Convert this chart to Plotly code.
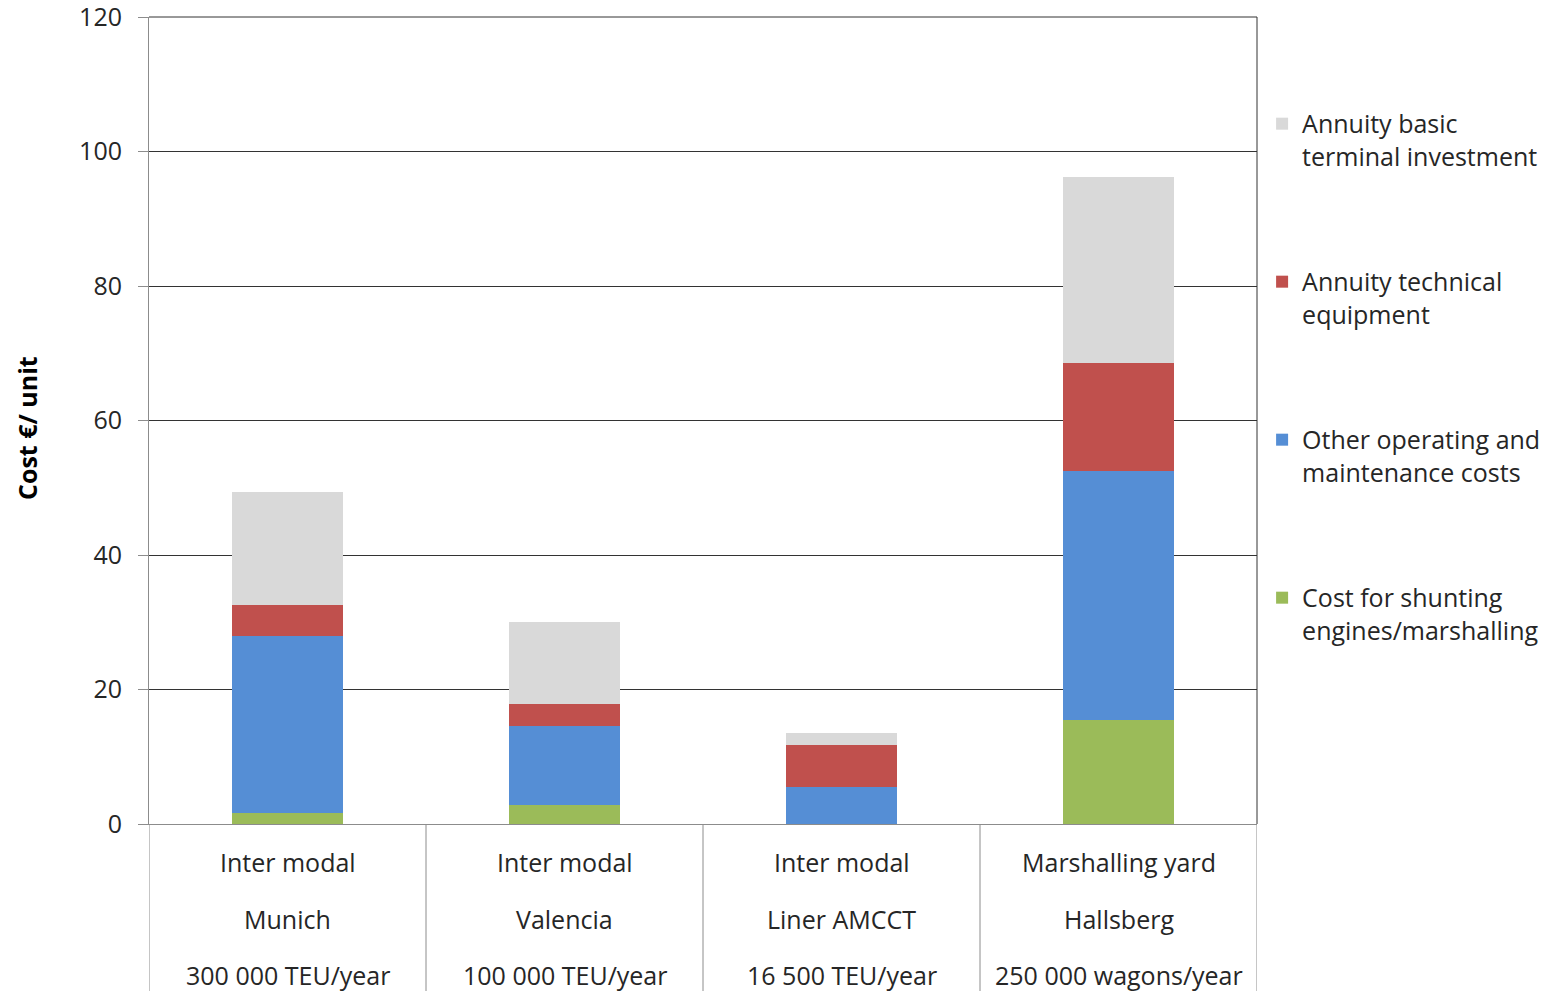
import plotly.graph_objects as go

categories = ["Munich", "Valencia", "Liner AMCCT", "Hallsberg"]
label_line1 = ["Inter modal", "Inter modal", "Inter modal", "Marshalling yard"]
label_line2 = ["Munich", "Valencia", "Liner AMCCT", "Hallsberg"]
label_line3 = ["300 000 TEU/year", "100 000 TEU/year", "16 500 TEU/year", "250 000 wagons/year"]

shunting = [1.6, 2.8, 0.0, 15.5]
other_om = [26.4, 11.8, 5.5, 37.0]
technical = [4.6, 3.2, 6.2, 16.0]
basic = [16.8, 12.2, 1.9, 27.7]

series_names = [
    "Cost for shunting<br>engines/marshalling",
    "Other operating and<br>maintenance costs",
    "Annuity technical<br>equipment",
    "Annuity basic<br>terminal investment",
]
series_values = [shunting, other_om, technical, basic]
series_colors = ["#9BBB59", "#558ED5", "#C0504D", "#D9D9D9"]
legend_ranks = [4, 3, 2, 1]

FONT = "Open Sans"
FS = 25
TXT = "#262626"

fig = go.Figure()
for i, (name, vals, col) in enumerate(zip(series_names, series_values, series_colors)):
    fig.add_trace(go.Bar(
        x=list(range(len(categories))), y=vals, name=name,
        marker=dict(color=col, line=dict(width=0)),
        legendgroup=f"g{i}", legendrank=legend_ranks[i],
    ))

fig.update_layout(
    barmode="stack", bargap=0.6,
    width=1559, height=991,
    margin=dict(l=149, r=302, t=17, b=167, autoexpand=False),
    plot_bgcolor="white", paper_bgcolor="white",
    font=dict(family=FONT, size=FS, color=TXT),
    showlegend=True,
    legend=dict(
        x=1.0046, xanchor="left", y=0.896, yanchor="top",
        traceorder="grouped", tracegroupgap=90,
        valign="top", font=dict(size=FS, family=FONT, color=TXT),
        itemwidth=30, bgcolor="rgba(0,0,0,0)",
    ),
)
fig.update_yaxes(
    range=[0, 120], dtick=20, showgrid=True, gridcolor="#333333", gridwidth=1,
    zeroline=False, showline=True, linecolor="#8C8C8C", linewidth=1,
    ticks="outside", ticklen=10, tickcolor="#8C8C8C",
    ticklabelstandoff=11, ticklabeloverflow="allow",
    tickfont=dict(size=FS, family=FONT, color=TXT),
)
fig.update_xaxes(
    range=[-0.5, len(categories) - 0.5], showticklabels=False, ticks="",
    showgrid=False, zeroline=False, showline=True, linecolor="#8C8C8C", linewidth=1,
)

# top and right border of plot area
fig.add_shape(type="line", xref="paper", yref="paper", x0=0, x1=1, y0=1, y1=1,
              line=dict(color="#333333", width=1))
fig.add_shape(type="line", xref="paper", yref="paper", x0=1, x1=1, y0=0, y1=1,
              line=dict(color="#333333", width=1))
# category dividers below axis
for b in range(len(categories) + 1):
    fig.add_shape(type="line", xref="x", yref="paper", x0=b - 0.5, x1=b - 0.5,
                  y0=0, y1=-0.25, line=dict(color="#8C8C8C", width=1))

for i in range(len(categories)):
    for ln, yp in ((label_line1, -0.0471), (label_line2, -0.1177), (label_line3, -0.1871)):
        fig.add_annotation(x=i, xref="x", y=yp, yref="paper", text=ln[i],
                           showarrow=False, xanchor="center", yanchor="middle",
                           font=dict(size=FS, family=FONT, color=TXT))

fig.add_annotation(x=(27 - 149) / 1108, xref="paper", y=(824 - 428) / 807, yref="paper",
                   text="<b>Cost €/ unit</b>", textangle=-90, showarrow=False,
                   xanchor="center", yanchor="middle",
                   font=dict(size=FS, family=FONT, color="#000000"))

fig.write_html("out.html")
